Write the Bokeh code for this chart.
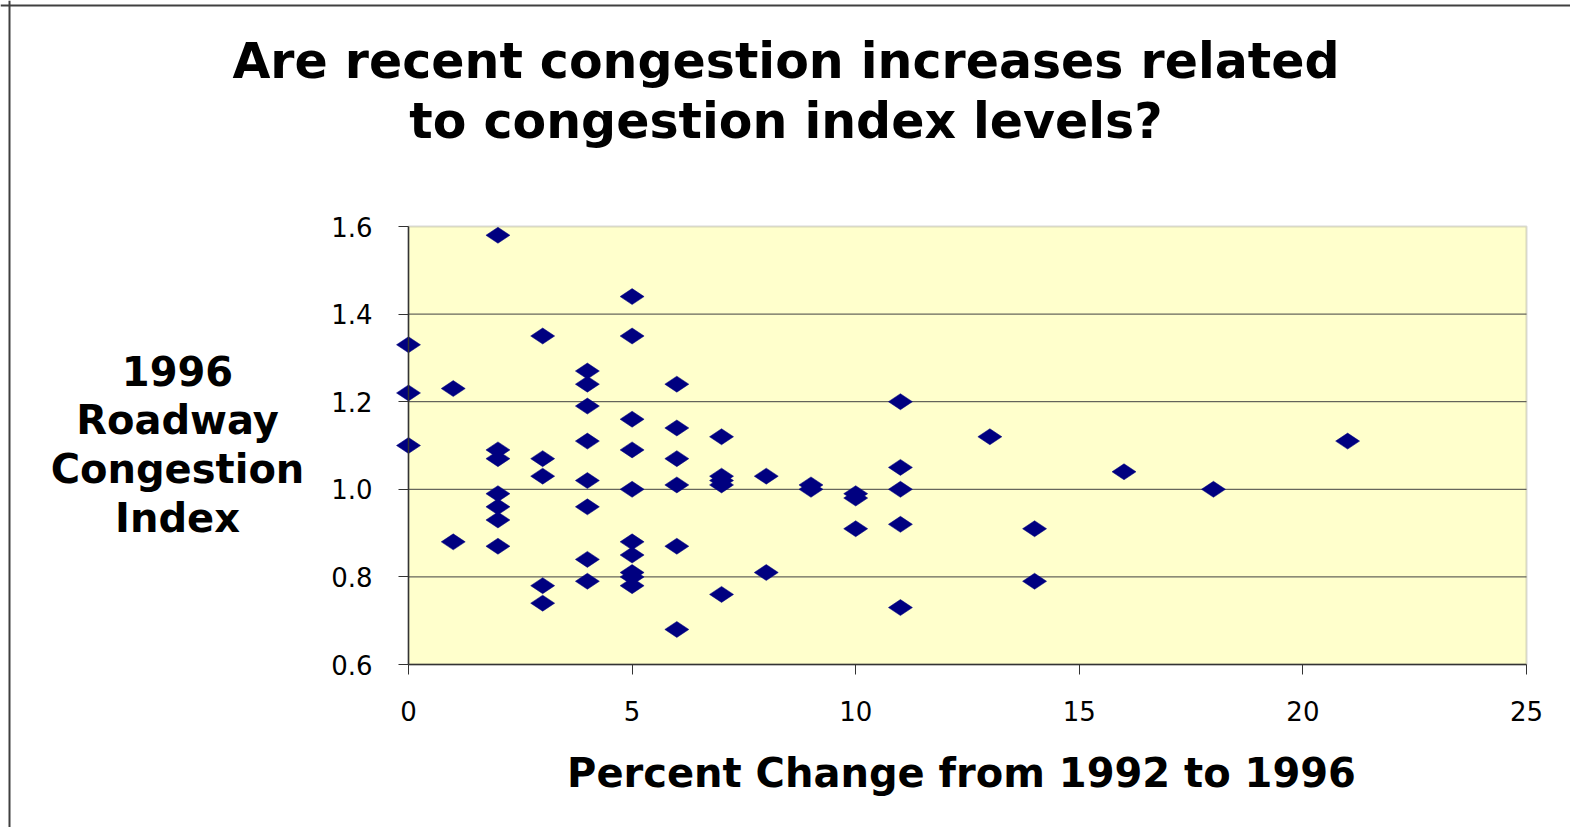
from bokeh.plotting import figure
from bokeh.models import (Range1d, FixedTicker, PrintfTickFormatter, Label, BoxAnnotation,
                          Span, Grid)
from bokeh.embed import file_html
from bokeh.resources import INLINE
import math

# ---- data ----
pct_change = [0, 0, 0,
              1, 1,
              2, 2, 2, 2, 2, 2, 2,
              3, 3, 3, 3, 3,
              4, 4, 4, 4, 4, 4, 4, 4,
              5, 5, 5, 5, 5, 5, 5, 5, 5, 5,
              6, 6, 6, 6, 6, 6,
              7, 7, 7, 7, 7,
              8, 8,
              9, 9,
              10, 10, 10,
              11, 11, 11, 11, 11,
              13,
              14, 14,
              16,
              18,
              21]
congestion_index = [1.33, 1.22, 1.10,
                    1.23, 0.88,
                    1.58, 1.09, 1.07, 0.99, 0.96, 0.93, 0.87,
                    1.35, 1.07, 1.03, 0.78, 0.74,
                    1.27, 1.24, 1.19, 1.11, 1.02, 0.96, 0.84, 0.79,
                    1.44, 1.35, 1.16, 1.09, 1.00, 0.88, 0.85, 0.81, 0.80, 0.78,
                    1.24, 1.14, 1.07, 1.01, 0.87, 0.68,
                    1.12, 1.03, 1.02, 1.01, 0.76,
                    1.03, 0.81,
                    1.01, 1.00,
                    0.99, 0.98, 0.91,
                    1.20, 1.05, 1.00, 0.92, 0.73,
                    1.12,
                    0.91, 0.79,
                    1.04,
                    1.00,
                    1.11]
x_ticks = [0, 5, 10, 15, 20, 25]
y_ticks = [0.6, 0.8, 1.0, 1.2, 1.4, 1.6]
title_lines = ["Are recent congestion increases related", "to congestion index levels?"]
y_label_lines = ["1996", "Roadway", "Congestion", "Index"]
x_label = "Percent Change from 1992 to 1996"

# ---- layout (page pixels) ----
W, H = 1570, 827
PL, PR, PT, PB = 408, 1526, 226, 664          # plot area edges
x0, x1 = x_ticks[0], x_ticks[-1]
y0, y1 = y_ticks[0], y_ticks[-1]
kx = (PR - PL) / (x1 - x0)
ky = (PB - PT) / (y1 - y0)


def X(px):
    return x0 + (px - PL) / kx


def Y(py):
    return y0 + (PB - py) / ky


p = figure(width=W, height=H, output_backend="svg", toolbar_location=None,
           x_range=Range1d(X(0), X(W)), y_range=Range1d(Y(H), Y(0)),
           min_border=0, min_border_left=0, min_border_right=0,
           min_border_top=0, min_border_bottom=0)
p.outline_line_color = None
p.background_fill_color = "white"
p.border_fill_color = "white"

# remove default grids; gridlines are drawn over the plot area only
p.center = [r for r in p.center if not isinstance(r, Grid)]

# plot-area background and grey frame
p.add_layout(BoxAnnotation(left=x0, right=x1, bottom=y0, top=y1,
                           fill_color="#FFFFCC", fill_alpha=1.0,
                           line_color="#808080", line_width=2, level="underlay"))

# horizontal gridlines at the inner y ticks
inner = y_ticks[1:-1]
p.segment(x0=[x0] * len(inner), y0=inner, x1=[x1] * len(inner), y1=inner,
          line_color="#404040", line_width=1)

# axes pinned to the plot-area edges
for ax, loc, bnds, ticks, fmt in ((p.xaxis, y0, (x0, x1), x_ticks, "%d"),
                                  (p.yaxis, x0, (y0, y1), y_ticks, "%.1f")):
    ax.fixed_location = loc
    ax.bounds = bnds
    ax.ticker = FixedTicker(ticks=ticks)
    ax.formatter = PrintfTickFormatter(format=fmt)
    ax.axis_line_color = "#333333"
    ax.axis_line_width = 1.5
    ax.major_tick_line_color = "#333333"
    ax.major_tick_line_width = 1
    ax.major_tick_out = 10
    ax.major_tick_in = 0
    ax.minor_tick_line_color = None
    ax.major_label_text_font = "DejaVu Sans"
    ax.major_label_text_font_size = "26px"
    ax.major_label_text_color = "black"
    ax.major_label_standoff = 26

p.scatter(pct_change, congestion_index, marker="diamond", size=24, angle=math.pi / 2,
          fill_color="#000080", line_color="#000080", line_width=0.5)

# outer chart border (left and top edges visible)
p.add_layout(Span(location=X(9), dimension="height", line_color="#404040", line_width=2))
p.add_layout(Span(location=Y(5), dimension="width", line_color="#404040", line_width=2))

# title (two lines)
for txt, py in zip(title_lines, [61, 121]):
    p.add_layout(Label(x=X(785.5), y=Y(py), text=txt, text_align="center",
                       text_baseline="alphabetic", text_font="DejaVu Sans",
                       text_font_style="bold", text_font_size="49px", text_color="black"))

# y-axis title (horizontal, four lines)
for txt, py in zip(y_label_lines, [370, 419, 468, 517]):
    p.add_layout(Label(x=X(177), y=Y(py), text=txt, text_align="center",
                       text_baseline="alphabetic", text_font="DejaVu Sans",
                       text_font_style="bold", text_font_size="40px", text_color="black"))

# x-axis title
p.add_layout(Label(x=X(961), y=Y(772), text=x_label, text_align="center",
                   text_baseline="alphabetic", text_font="DejaVu Sans",
                   text_font_style="bold", text_font_size="40px", text_color="black"))

open("out.html", "w").write(file_html(p, INLINE))
